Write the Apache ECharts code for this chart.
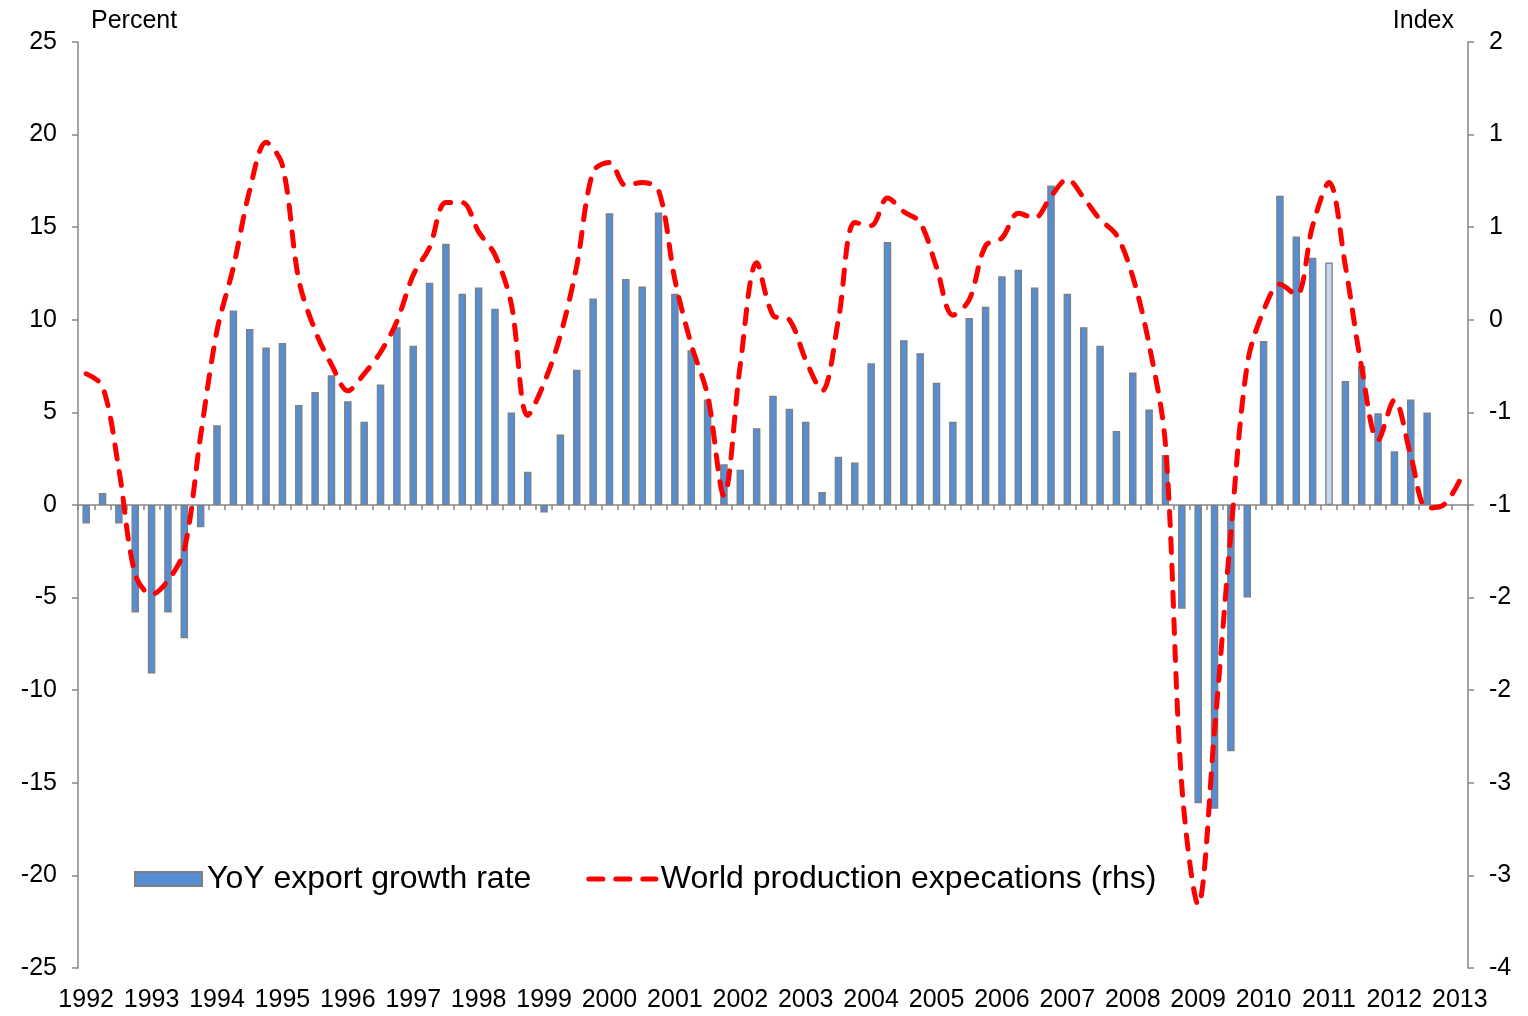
<!DOCTYPE html>
<html>
<head>
<meta charset="utf-8">
<title>Export growth vs world production expectations</title>
<script src="https://cdn.jsdelivr.net/npm/echarts@6.0.0/dist/echarts.min.js"></script>
<style>
  html, body { margin: 0; padding: 0; background: #fff; }
  #chart { width: 1528px; height: 1016px; }
</style>
</head>
<body>
<div id="chart"></div>
<script>
// quarterly data, 1992Q1 .. 2013Q1
const years = [1992, 1993, 1994, 1995, 1996, 1997, 1998, 1999, 2000, 2001, 2002,
  2003, 2004, 2005, 2006, 2007, 2008, 2009, 2010, 2011, 2012, 2013]
const quarters = ['Q1', 'Q2', 'Q3', 'Q4']

// YoY export growth rate, percent (lhs)
const exportGrowth = [
  -1.0, 0.65, -1.0, -5.8, -9.1, -5.8, -7.2, -1.2,
  4.3, 10.5, 9.5, 8.5, 8.75, 5.4, 6.1, 7.0,
  5.6, 4.5, 6.5, 9.6, 8.6, 12.0, 14.1, 11.4,
  11.75, 10.6, 5.0, 1.8, -0.4, 3.8, 7.3, 11.15,
  15.75, 12.2, 11.8, 15.8, 11.4, 8.35, 5.7, 2.2,
  1.9, 4.15, 5.9, 5.2, 4.5, 0.7, 2.6, 2.3,
  7.65, 14.2, 8.9, 8.2, 6.6, 4.5, 10.1, 10.7,
  12.35, 12.7, 11.75, 17.25, 11.4, 9.6, 8.6, 4.0,
  7.15, 5.15, 2.7, -5.6, -16.1, -16.4, -13.3, -5.0,
  8.85, 16.7, 14.5, 13.35, 13.1, 6.7, 7.5, 4.95,
  2.9, 5.7, 5.0, null, null
]

// World production expectations, index (rhs)
const productionExpectations = [
  -0.15, -0.23, -0.77, -1.45, -1.58, -1.49, -1.29, -0.55,
  0.13, 0.54, 1.04, 1.35, 1.20, 0.46, 0.13, -0.09,
  -0.26, -0.15, -0.01, 0.19, 0.49, 0.67, 0.96, 0.96,
  0.77, 0.62, 0.30, -0.42, -0.21, 0.10, 0.55, 1.16,
  1.22, 1.07, 1.09, 1.04, 0.46, 0.04, -0.29, -0.94,
  -0.09, 0.57, 0.23, 0.20, -0.06, -0.26, 0.20, 0.83,
  0.81, 0.99, 0.90, 0.83, 0.54, 0.23, 0.33, 0.68,
  0.73, 0.89, 0.86, 1.00, 1.11, 0.99, 0.85, 0.75,
  0.48, 0.04, -0.61, -2.82, -3.59, -2.46, -1.18, -0.09,
  0.26, 0.43, 0.36, 0.81, 1.09, 0.55, -0.11, -0.58,
  -0.32, -0.68, -1.02, -1.00, -0.84
]

// the lighter bar (2011Q1)
const highlightQuarter = '2011Q1'

// right axis labels as printed, from -4 up to 2
const rightTickLabels = ['-4', '-3', '-3', '-2', '-2', '-1', '-1', '0', '1', '1', '2']

const categories = []
years.forEach(y => quarters.forEach(q => categories.push(y + q)))
categories.length = productionExpectations.length

const FONT = 'Liberation Sans, Arial, sans-serif'
const AXIS_GREY = '#868686'
const DASH = { color: '#FF0000', width: 5, type: [14, 13], cap: 'round' }

const chart = echarts.init(document.getElementById('chart'), null, { renderer: 'canvas' })

chart.setOption({
  animation: false,
  backgroundColor: '#fff',
  textStyle: { fontFamily: FONT, color: '#000' },
  grid: { left: 78, right: 60, top: 42, bottom: 48 },
  legend: {
    left: 134,
    top: 863,
    padding: 0,
    itemWidth: 67,
    itemHeight: 14,
    itemGap: 55,
    textStyle: { fontSize: 32, fontFamily: FONT, color: '#000' },
    data: [
      { name: 'YoY export growth rate', icon: 'rect' },
      {
        name: 'World production expecations (rhs)',
        lineStyle: DASH,
        // hide the marker that echarts puts in the middle of a line icon
        itemStyle: { color: 'rgba(0,0,0,0)', borderColor: 'rgba(0,0,0,0)', borderWidth: 0, opacity: 0 }
      }
    ]
  },
  graphic: [
    {
      type: 'text', left: 91, top: 9,
      style: { text: 'Percent', fontSize: 25, fontFamily: FONT, fill: '#000' }
    },
    {
      type: 'text', right: 74, top: 9,
      style: { text: 'Index', fontSize: 25, fontFamily: FONT, fill: '#000' }
    }
  ],
  xAxis: [
    {
      // year labels along the bottom
      type: 'category',
      data: categories,
      position: 'bottom',
      axisLine: { show: false, onZero: false },
      axisTick: { show: false },
      splitLine: { show: false },
      axisLabel: {
        interval: 3,
        margin: 20,
        fontSize: 25,
        fontFamily: FONT,
        color: '#000',
        formatter: v => v.slice(0, 4)
      }
    },
    {
      // the zero line with quarter ticks
      type: 'category',
      data: categories,
      position: 'bottom',
      axisLine: { show: true, onZero: true, onZeroAxisIndex: 0, lineStyle: { color: AXIS_GREY, width: 1.5 } },
      axisTick: { show: true, interval: 0, length: 5, lineStyle: { color: AXIS_GREY, width: 1.5 } },
      axisLabel: { show: false },
      splitLine: { show: false }
    }
  ],
  yAxis: [
    {
      type: 'value',
      position: 'left',
      min: -25,
      max: 25,
      interval: 5,
      splitLine: { show: false },
      axisLine: { show: true, lineStyle: { color: AXIS_GREY, width: 1.5 } },
      axisTick: { show: true, length: 6, lineStyle: { color: AXIS_GREY, width: 1.5 } },
      axisLabel: { margin: 21, fontSize: 25, fontFamily: FONT, color: '#000' }
    },
    {
      type: 'value',
      position: 'right',
      min: -4,
      max: 2,
      interval: 0.6,
      splitLine: { show: false },
      axisLine: { show: true, lineStyle: { color: AXIS_GREY, width: 1.5 } },
      axisTick: { show: true, length: 6, lineStyle: { color: AXIS_GREY, width: 1.5 } },
      axisLabel: {
        margin: 21,
        fontSize: 25,
        fontFamily: FONT,
        color: '#000',
        formatter: v => rightTickLabels[Math.round((v + 4) / 0.6)]
      }
    }
  ],
  series: [
    {
      name: 'YoY export growth rate',
      type: 'bar',
      xAxisIndex: 0,
      yAxisIndex: 0,
      barWidth: 7.5,
      itemStyle: { color: '#558ED5', borderColor: '#7F7F7F', borderWidth: 1.3 },
      data: exportGrowth.map((v, i) => categories[i] === highlightQuarter
        ? { value: v, itemStyle: { color: '#C6D9F1' } }
        : v)
    },
    {
      name: 'World production expecations (rhs)',
      type: 'line',
      xAxisIndex: 0,
      yAxisIndex: 1,
      smooth: 0.33,
      symbol: 'none',
      z: 5,
      lineStyle: DASH,
      itemStyle: { color: '#FF0000' },
      data: productionExpectations
    }
  ]
})
</script>
</body>
</html>
